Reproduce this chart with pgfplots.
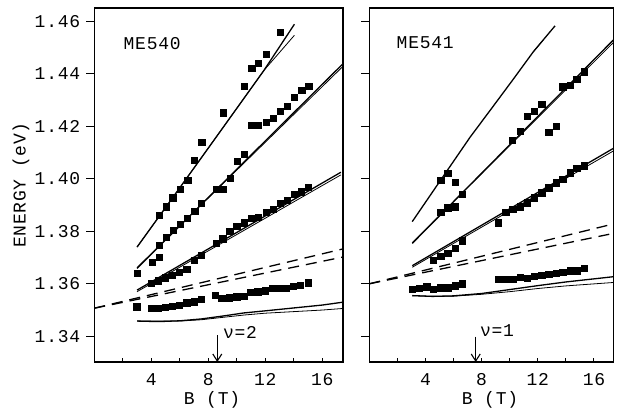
\documentclass[border=0pt]{standalone}
\usepackage{fontspec}
\setmainfont{Liberation Mono}[LetterSpace=4]
\usepackage{pgfplots}
\pgfplotsset{compat=1.18}
\usetikzlibrary{arrows.meta}
\begin{document}
\fontsize{18pt}{20pt}\selectfont
\begin{tikzpicture}[font=\fontsize{18pt}{20pt}\selectfont]
\useasboundingbox (0pt,0pt) rectangle (623pt,412pt);
\pgfplotsset{
  panel/.style={
    scale only axis, height=354pt,
    ymin=1.3302, ymax=1.4651, xmin=0,
    axis line style={line width=1.1pt},
    tick style={line width=1.0pt, black},
    tick align=inside, major tick length=4pt,
    xtick={2,4,...,16}, xticklabels={,4,,8,,12,,16},
    xtick pos=left, ytick pos=left,
    ytick=\empty,
    extra y ticks={1.34,1.36,1.38,1.40,1.42,1.44,1.46},
    extra tick style={tick align=outside, major tick length=8pt, ytick pos=left},
    xticklabel style={yshift=-5pt},
    /pgf/number format/assume math mode=true,
    clip=false,
  },
  sq/.style={only marks, mark=square*, mark size=3.1pt, black},
  ln/.style={black, line width=1.3pt, no marks},
  thn/.style={black, line width=0.8pt, no marks},
  ds/.style={black, line width=1.3pt, no marks, dash pattern=on 11pt off 7pt},
}
% ---------------- ME540 ----------------
\begin{axis}[panel, at={(94.3pt,50pt)}, anchor=south west, width=248.7pt, xmax=17.45,
  extra y tick labels={1.34,1.36,1.38,1.40,1.42,1.44,1.46}]
\addplot[ln] coordinates {(3,1.3740) (6,1.3966) (9,1.4193) (11.9,1.4413) (14.04,1.4589)};
\addplot[thn] coordinates {(3,1.3740) (6,1.3966) (9,1.4193) (11.9,1.4413) (14.04,1.4547)};
\addplot[ln] coordinates {(3,1.3659) (17.4,1.4436)};
\addplot[thn] coordinates {(3,1.3662) (17.4,1.4426)};
\addplot[ln] coordinates {(3,1.3576) (17.3,1.4025)};
\addplot[thn] coordinates {(3,1.3570) (17.3,1.4015)};
\addplot[ds] coordinates {(0,1.3507) (17.45,1.3733)};
\addplot[ds] coordinates {(0,1.3507) (17.45,1.3702)};
\addplot[ln] coordinates {(3,1.3458) (4.5,1.3456) (6,1.3459) (7.5,1.3466) (9,1.3477) (10.5,1.3489) (12,1.3497) (14,1.3508) (16,1.3519) (17.45,1.3530)};
\addplot[thn] coordinates {(3,1.3458) (6,1.3458) (7.5,1.3463) (9,1.3472) (10.5,1.3481) (12,1.3488) (14,1.3494) (16,1.3500) (17.45,1.3506)};
\addplot[sq] coordinates {(4.56,1.3862) (5.03,1.3894) (5.50,1.3928) (6.01,1.3961) (6.55,1.3995) (7.02,1.4072) (7.54,1.4139) (9.07,1.4252) (10.53,1.4353) (11.05,1.4422) (11.51,1.4440) (12.07,1.4474) (13.05,1.4558)};
\addplot[sq] coordinates {(3.02,1.3640) (4.07,1.3682) (4.56,1.3702) (4.58,1.3746) (5.05,1.3778) (5.52,1.3804) (6.04,1.3826) (6.51,1.3851) (7.04,1.3876) (7.51,1.3906) (8.54,1.3960) (9.03,1.3960) (9.51,1.4003) (10.01,1.4068) (10.53,1.4093) (11.05,1.4204) (11.51,1.4204) (12.07,1.4215) (12.56,1.4230) (13.05,1.4257) (13.54,1.4276) (14.04,1.4310) (14.55,1.4337) (15.05,1.4352)};
\addplot[sq] coordinates {(3.98,1.3602) (4.49,1.3612) (4.96,1.3623) (5.47,1.3634) (5.96,1.3644) (6.48,1.3655) (6.99,1.3691) (7.49,1.3710) (8.53,1.3756) (9.01,1.3772) (9.50,1.3800) (9.99,1.3819) (10.53,1.3833) (11.05,1.3849) (11.51,1.3853) (12.04,1.3873) (12.54,1.3885) (13.05,1.3906) (13.54,1.3919) (14.04,1.3941) (14.51,1.3951) (15.02,1.3968)};
\addplot[sq] coordinates {(2.98,1.3513) (3.98,1.3507) (4.45,1.3507) (4.96,1.3511) (5.47,1.3515) (5.96,1.3519) (6.48,1.3528) (6.99,1.3532) (7.49,1.3541) (8.47,1.3558) (8.94,1.3545) (9.47,1.3547) (9.99,1.3551) (10.51,1.3553) (10.98,1.3568) (11.47,1.3570) (11.98,1.3574) (12.49,1.3583) (12.98,1.3583) (13.45,1.3583) (13.97,1.3592) (14.44,1.3595) (14.98,1.3604)};
\draw[black, line width=1.1pt, -{Straight Barb[length=7pt,width=9pt,line width=1.1pt]}] (axis cs:8.63,1.3403) -- (axis cs:8.63,1.3302);
\node at (axis cs:10.22,1.3416) {ν=2};
\node at (axis cs:4.06,1.4517) {ME540};
\end{axis}
% ---------------- ME541 ----------------
\begin{axis}[panel, at={(369.3pt,50pt)}, anchor=south west, width=244pt, xmax=17.38,
  extra y tick labels={,,,,,,}]
\addplot[ln] coordinates {(3.06,1.3837) (5.08,1.3995) (7.17,1.4158) (8.83,1.4277) (10.26,1.4380) (11.68,1.4484) (13.23,1.4583)};
\addplot[thn] coordinates {(11.68,1.4484) (12.40,1.4530)};
\addplot[ln] coordinates {(3.06,1.3754) (17.38,1.4529)};
\addplot[thn] coordinates {(3.06,1.3757) (17.38,1.4519)};
\addplot[ln] coordinates {(3.06,1.3669) (17.38,1.4116)};
\addplot[thn] coordinates {(3.06,1.3663) (17.38,1.4106)};
\addplot[ds] coordinates {(0,1.3600) (17.38,1.3828)};
\addplot[ds] coordinates {(0,1.3600) (17.38,1.3792)};
\addplot[ln] coordinates {(3.06,1.3555) (4.5,1.3552) (6,1.3554) (8,1.3563) (10,1.3578) (12,1.3593) (14,1.3607) (17.38,1.3627)};
\addplot[thn] coordinates {(3.06,1.3555) (4.5,1.3552) (6,1.3553) (8,1.3560) (10,1.3570) (12,1.3582) (14,1.3592) (17.38,1.3605)};
\addplot[sq] coordinates {(5.08,1.3995) (5.58,1.4021) (6.10,1.3987)};
\addplot[sq] coordinates {(5.08,1.3872) (5.58,1.3890) (6.10,1.3894) (6.62,1.3941) (10.19,1.4148) (10.73,1.4180) (11.26,1.4240) (11.75,1.4258) (12.28,1.4285) (12.78,1.4177) (13.30,1.4202) (13.77,1.4351) (14.30,1.4357) (14.77,1.4380) (15.29,1.4408)};
\addplot[sq] coordinates {(4.56,1.3691) (5.08,1.3706) (5.58,1.3718) (6.10,1.3735) (6.62,1.3764) (9.19,1.3833) (9.72,1.3872) (10.21,1.3885) (10.73,1.3894) (11.26,1.3909) (11.75,1.3928) (12.28,1.3947) (12.78,1.3966) (13.30,1.3985) (13.77,1.3998) (14.30,1.4023) (14.77,1.4040) (15.29,1.4050)};
\addplot[sq] coordinates {(3.06,1.3580) (3.56,1.3583) (4.09,1.3589) (4.56,1.3579) (5.08,1.3585) (5.58,1.3585) (6.10,1.3593) (6.62,1.3600) (9.19,1.3617) (9.72,1.3617) (10.21,1.3617) (10.73,1.3624) (11.26,1.3620) (11.75,1.3630) (12.28,1.3633) (12.78,1.3637) (13.30,1.3639) (13.77,1.3643) (14.30,1.3650) (14.77,1.3650) (15.29,1.3658)};
\draw[black, line width=1.1pt, -{Straight Barb[length=7pt,width=9pt,line width=1.1pt]}] (axis cs:7.58,1.3399) -- (axis cs:7.58,1.3302);
\node at (axis cs:9.1,1.3420) {ν=1};
\node at (axis cs:3.98,1.4517) {ME541};
\end{axis}
\node[rotate=90] at (21pt,227pt) {ENERGY (eV)};
\node at (212pt,12pt) {B (T)};
\node at (490pt,12pt) {B (T)};
\end{tikzpicture}
\end{document}
